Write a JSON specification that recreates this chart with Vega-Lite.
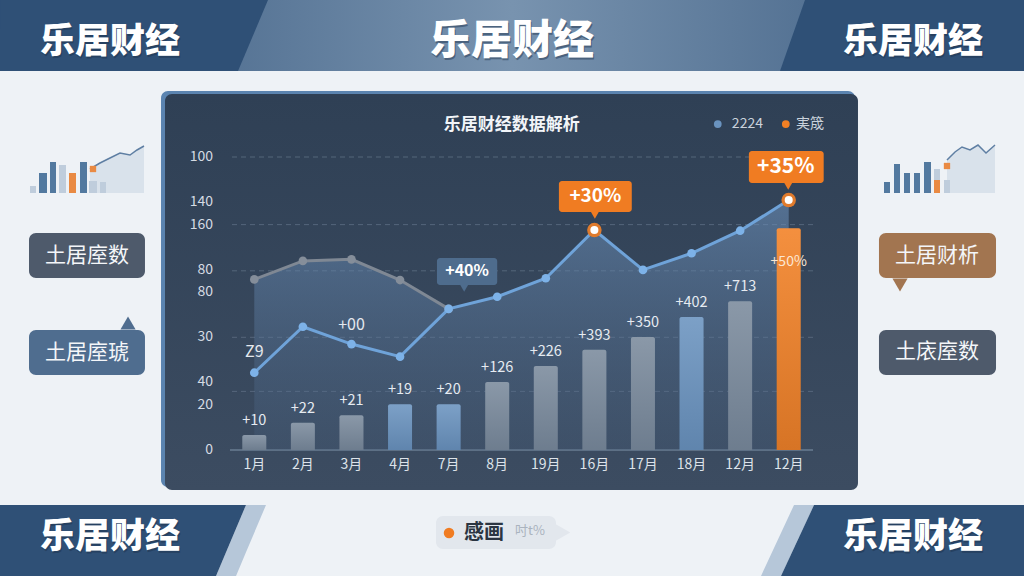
{
  "$schema": "https://vega.github.io/schema/vega-lite/v6.json",
  "width": 583,
  "height": 293,
  "autosize": {"type": "none"},
  "padding": {"left": 230, "top": 157, "right": 211, "bottom": 126},
  "background": "#eef2f6",
  "config": {"font": "Noto Sans CJK SC", "view": {"stroke": null}, "scale": {"continuousPadding": 0}},
  "datasets": {
    "m": [
      {"i": 1, "mon": "1月", "bar": 0.67, "kind": "g", "lbl": "+10", "blue": 3.43, "gray": 7.57, "env": 7.57},
      {"i": 2, "mon": "2月", "bar": 1.21, "kind": "g", "lbl": "+22", "blue": 5.47, "gray": 8.39, "env": 8.39},
      {"i": 3, "mon": "3月", "bar": 1.54, "kind": "g", "lbl": "+21", "blue": 4.70, "gray": 8.46, "env": 8.46},
      {"i": 4, "mon": "4月", "bar": 2.03, "kind": "b", "lbl": "+19", "blue": 4.14, "gray": 7.54, "env": 7.54},
      {"i": 5, "mon": "7月", "bar": 2.03, "kind": "b", "lbl": "+20", "blue": 6.26, "gray": 6.26, "env": 6.26},
      {"i": 6, "mon": "8月", "bar": 3.02, "kind": "g", "lbl": "+126", "blue": 6.80, "gray": null, "env": 6.80},
      {"i": 7, "mon": "19月", "bar": 3.73, "kind": "g", "lbl": "+226", "blue": 7.62, "gray": null, "env": 7.62},
      {"i": 8, "mon": "16月", "bar": 4.45, "kind": "g", "lbl": "+393", "blue": 9.76, "gray": null, "env": 9.76},
      {"i": 9, "mon": "17月", "bar": 5.01, "kind": "g", "lbl": "+350", "blue": 7.99, "gray": null, "env": 7.99},
      {"i": 10, "mon": "18月", "bar": 5.90, "kind": "b", "lbl": "+402", "blue": 8.73, "gray": null, "env": 8.73},
      {"i": 11, "mon": "12月", "bar": 6.60, "kind": "g", "lbl": "+713", "blue": 9.73, "gray": null, "env": 9.73},
      {"i": 12, "mon": "12月", "bar": 9.84, "kind": "o", "lbl": "", "blue": 11.09, "gray": null, "env": 11.09}
    ],
    "ticks": [
      {"v": 0, "t": "0"}, {"v": 2, "t": "20"}, {"v": 3, "t": "40"}, {"v": 5, "t": "30"}, {"v": 7, "t": "80"},
      {"v": 8, "t": "80"}, {"v": 10, "t": "160"}, {"v": 11, "t": "140"}, {"v": 13, "t": "100"}
    ]
  },
  "layer": [
    {
      "encoding": {
        "x": {"field": "a", "type": "quantitative", "scale": {"domain": [0.5, 12.5], "nice": false, "zero": false, "padding": 0}, "axis": null},
        "y": {"field": "b", "type": "quantitative", "scale": {"domain": [0, 13], "nice": false, "zero": false}, "axis": null, "stack": null}
      },
      "layer": [
        {
          "data": {"values": [{"a": -4.234, "a2": 16.843, "b": 19.966, "b2": 16.816}]},
          "mark": {"type": "rect", "color": {"gradient": "linear", "x1": 0, "y1": 0, "x2": 1, "y2": 0, "stops": [{"offset": 0, "color": "#3b5b80"}, {"offset": 0.5, "color": "#7893af"}, {"offset": 1, "color": "#3b5b80"}]}},
          "encoding": {"x2": {"field": "a2"}, "y2": {"field": "b2"}}
        },
        {
          "data": {"values": [
            {"g": "tl", "k": "navy", "a": -4.234, "b": 19.966, "b2": 16.816},
            {"g": "tl", "k": "navy", "a": 0.665, "b": 19.966, "b2": 16.816},
            {"g": "tl", "k": "navy", "a": 1.282, "b": 19.966, "b2": 19.966},
            {"g": "tr", "k": "navy", "a": 11.821, "b": 16.816, "b2": 16.816},
            {"g": "tr", "k": "navy", "a": 12.335, "b": 19.966, "b2": 16.816},
            {"g": "tr", "k": "navy", "a": 16.843, "b": 19.966, "b2": 16.816},
            {"g": "bls", "k": "pale", "a": 0.212, "b": -5.590, "b2": -5.590},
            {"g": "bls", "k": "pale", "a": 0.624, "b": -3.492, "b2": -5.590},
            {"g": "bls", "k": "pale", "a": 0.829, "b": -2.440, "b2": -4.539},
            {"g": "bls", "k": "pale", "a": 1.241, "b": -2.440, "b2": -2.440},
            {"g": "brs", "k": "pale", "a": 11.430, "b": -5.590, "b2": -5.590},
            {"g": "brs", "k": "pale", "a": 11.841, "b": -3.683, "b2": -5.590},
            {"g": "brs", "k": "pale", "a": 12.109, "b": -2.440, "b2": -4.348},
            {"g": "brs", "k": "pale", "a": 12.521, "b": -2.440, "b2": -2.440},
            {"g": "bl", "k": "navy", "a": -4.234, "b": -2.440, "b2": -5.590},
            {"g": "bl", "k": "navy", "a": 0.212, "b": -2.440, "b2": -5.590},
            {"g": "bl", "k": "navy", "a": 0.829, "b": -2.440, "b2": -2.440},
            {"g": "br", "k": "navy", "a": 11.841, "b": -5.590, "b2": -5.590},
            {"g": "br", "k": "navy", "a": 12.521, "b": -2.440, "b2": -5.590},
            {"g": "br", "k": "navy", "a": 16.843, "b": -2.440, "b2": -5.590}
          ]},
          "mark": {"type": "area", "orient": "vertical"},
          "encoding": {
            "y2": {"field": "b2"},
            "detail": {"field": "g"},
            "color": {"field": "k", "type": "nominal", "legend": null, "scale": {"domain": ["g", "b", "o", "cb", "co", "navy", "pale", "edge", "slate", "steel", "brown", "pill", "mbar", "mlight", "morange"], "range": ["#7a8a9c", "#6a93bf", "#f28024", "#4e6c8d", "#f07c22", "#2f5076", "#b6c7d9", "#5b84b0", "#4e5a6b", "#4f6d8f", "#a27550", "#e2e7ed", "#52799f", "#bfcddc", "#e98a43"]}}
          }
        },
        {
          "data": {"values": [
            {"a": -0.920, "a2": 13.365, "b": 15.928, "b2": -1.642, "k": "edge"},
            {"a": -3.637, "a2": -1.250, "b": 9.628, "b2": 7.631, "k": "slate"},
            {"a": -3.637, "a2": -1.250, "b": 5.324, "b2": 3.328, "k": "steel"},
            {"a": 13.858, "a2": 16.267, "b": 9.628, "b2": 7.631, "k": "brown"},
            {"a": 13.858, "a2": 16.267, "b": 5.324, "b2": 3.328, "k": "slate"},
            {"a": 4.740, "a2": 7.210, "b": -2.928, "b2": -4.392, "k": "pill"}
          ]},
          "mark": {"type": "rect", "cornerRadius": 7},
          "encoding": {
            "x2": {"field": "a2"},
            "y2": {"field": "b2"},
            "color": {"field": "k", "type": "nominal", "legend": null, "scale": {"domain": ["g", "b", "o", "cb", "co", "navy", "pale", "edge", "slate", "steel", "brown", "pill", "mbar", "mlight", "morange"], "range": ["#7a8a9c", "#6a93bf", "#f28024", "#4e6c8d", "#f07c22", "#2f5076", "#b6c7d9", "#5b84b0", "#4e5a6b", "#4f6d8f", "#a27550", "#e2e7ed", "#52799f", "#bfcddc", "#e98a43"]}}
          }
        },
        {
          "data": {"values": [{"a": -0.838, "a2": 13.426, "b": 15.795, "b2": -1.775}]},
          "mark": {"type": "rect", "cornerRadius": 7, "color": {"gradient": "linear", "x1": 0, "y1": 0, "x2": 0, "y2": 1, "stops": [{"offset": 0, "color": "#2f4055"}, {"offset": 1, "color": "#3c4c61"}]}},
          "encoding": {"x2": {"field": "a2"}, "y2": {"field": "b2"}}
        },
        {
          "data": {"values": [{"a": -1.599, "b": 5.635}]},
          "mark": {"type": "point", "shape": "triangle-up", "filled": true, "opacity": 1, "size": 230, "color": "#4f6d8f"}
        },
        {
          "data": {"values": [{"a": 14.291, "b": 7.321}]},
          "mark": {"type": "point", "shape": "triangle-down", "filled": true, "opacity": 1, "size": 230, "color": "#a27550"}
        },
        {
          "data": {"values": [{"a": 7.292, "b": -3.660}]},
          "mark": {"type": "point", "shape": "triangle-right", "filled": true, "opacity": 1, "size": 560, "color": "#e2e7ed"}
        },
        {
          "data": {"values": [
            {"g": "L", "a": -2.382, "b": 12.468, "b2": 11.403},
            {"g": "L", "a": -2.176, "b": 12.734, "b2": 11.403},
            {"g": "L", "a": -1.970, "b": 12.956, "b2": 11.403},
            {"g": "L", "a": -1.764, "b": 13.177, "b2": 11.403},
            {"g": "L", "a": -1.558, "b": 13.089, "b2": 11.403},
            {"g": "L", "a": -1.414, "b": 13.311, "b2": 11.403},
            {"g": "L", "a": -1.270, "b": 13.488, "b2": 11.403},
            {"g": "R", "a": 15.258, "b": 12.867, "b2": 11.403},
            {"g": "R", "a": 15.423, "b": 13.222, "b2": 11.403},
            {"g": "R", "a": 15.567, "b": 13.444, "b2": 11.403},
            {"g": "R", "a": 15.732, "b": 13.311, "b2": 11.403},
            {"g": "R", "a": 15.896, "b": 13.532, "b2": 11.403},
            {"g": "R", "a": 16.061, "b": 13.177, "b2": 11.403},
            {"g": "R", "a": 16.246, "b": 13.532, "b2": 11.403}
          ]},
          "layer": [
            {"mark": {"type": "area", "orient": "vertical", "color": "#d6e0ea", "opacity": 0.9}, "encoding": {"y2": {"field": "b2"}, "detail": {"field": "g"}}},
            {"mark": {"type": "line", "color": "#5f7fa3", "strokeWidth": 1.5}, "encoding": {"detail": {"field": "g"}}}
          ]
        },
        {
          "data": {"values": [
            {"a": -3.617, "a2": -3.493, "b": 11.713, "b2": 11.403, "k": "mlight"},
            {"a": -3.431, "a2": -3.267, "b": 12.290, "b2": 11.403, "k": "mbar"},
            {"a": -3.205, "a2": -3.081, "b": 12.778, "b2": 11.403, "k": "mbar"},
            {"a": -3.020, "a2": -2.876, "b": 12.645, "b2": 11.403, "k": "mlight"},
            {"a": -2.814, "a2": -2.670, "b": 12.290, "b2": 11.403, "k": "morange"},
            {"a": -2.587, "a2": -2.443, "b": 12.778, "b2": 11.403, "k": "mbar"},
            {"a": -2.402, "a2": -2.237, "b": 11.935, "b2": 11.403, "k": "mlight"},
            {"a": -2.176, "a2": -2.052, "b": 11.891, "b2": 11.403, "k": "mlight"},
            {"a": 13.961, "a2": 14.085, "b": 11.891, "b2": 11.403, "k": "mbar"},
            {"a": 14.167, "a2": 14.291, "b": 12.689, "b2": 11.403, "k": "mbar"},
            {"a": 14.373, "a2": 14.497, "b": 12.290, "b2": 11.403, "k": "mbar"},
            {"a": 14.579, "a2": 14.702, "b": 12.290, "b2": 11.403, "k": "mbar"},
            {"a": 14.785, "a2": 14.929, "b": 12.778, "b2": 11.403, "k": "mbar"},
            {"a": 14.990, "a2": 15.114, "b": 12.468, "b2": 11.403, "k": "mlight"},
            {"a": 14.990, "a2": 15.114, "b": 11.980, "b2": 11.403, "k": "morange"},
            {"a": 15.196, "a2": 15.320, "b": 11.980, "b2": 11.403, "k": "mlight"}
          ]},
          "mark": {"type": "rect"},
          "encoding": {
            "x2": {"field": "a2"},
            "y2": {"field": "b2"},
            "color": {"field": "k", "type": "nominal", "legend": null, "scale": {"domain": ["g", "b", "o", "cb", "co", "navy", "pale", "edge", "slate", "steel", "brown", "pill", "mbar", "mlight", "morange"], "range": ["#7a8a9c", "#6a93bf", "#f28024", "#4e6c8d", "#f07c22", "#2f5076", "#b6c7d9", "#5b84b0", "#4e5a6b", "#4f6d8f", "#a27550", "#e2e7ed", "#52799f", "#bfcddc", "#e98a43"]}}
          }
        },
        {
          "data": {"values": [{"a": -2.320, "b": 12.468}, {"a": 15.258, "b": 12.601}]},
          "mark": {"type": "square", "color": "#e98a43", "size": 40, "opacity": 1}
        },
        {
          "data": {"values": [
            {"a": -1.970, "b": 18.102, "t": "乐居财经", "z": "s"},
            {"a": 6.304, "b": 18.102, "t": "乐居财经", "z": "b"},
            {"a": 14.558, "b": 18.102, "t": "乐居财经", "z": "s"},
            {"a": -1.970, "b": -3.860, "t": "乐居财经", "z": "s"},
            {"a": 14.558, "b": -3.860, "t": "乐居财经", "z": "s"}
          ]},
          "layer": [
            {"transform": [{"filter": "datum.z == 's'"}],
             "mark": {"type": "text", "fontWeight": 900, "fontSize": 35, "color": "#1c2f48", "opacity": 0.45, "dx": 1, "dy": 2, "align": "center", "baseline": "middle"},
             "encoding": {"text": {"field": "t"}}},
            {"transform": [{"filter": "datum.z == 'b'"}],
             "mark": {"type": "text", "fontWeight": 900, "fontSize": 41, "color": "#1c2f48", "opacity": 0.45, "dx": 1, "dy": 2, "align": "center", "baseline": "middle"},
             "encoding": {"text": {"field": "t"}}},
            {"transform": [{"filter": "datum.z == 's'"}],
             "mark": {"type": "text", "fontWeight": 900, "fontSize": 35, "color": "#ffffff", "align": "center", "baseline": "middle"},
             "encoding": {"text": {"field": "t"}}},
            {"transform": [{"filter": "datum.z == 'b'"}],
             "mark": {"type": "text", "fontWeight": 900, "fontSize": 41, "color": "#ffffff", "align": "center", "baseline": "middle"},
             "encoding": {"text": {"field": "t"}}}
          ]
        },
        {
          "data": {"values": [
            {"a": -2.443, "b": 8.607, "t": "土居庢数"},
            {"a": -2.443, "b": 4.304, "t": "土居庢琥"},
            {"a": 15.052, "b": 8.607, "t": "土居财析"},
            {"a": 15.052, "b": 4.348, "t": "土庡庢数"}
          ]},
          "mark": {"type": "text", "color": "#f4f6f9", "fontSize": 21, "align": "center", "baseline": "middle"},
          "encoding": {"text": {"field": "t"}}
        },
        {
          "data": {"values": [{"a": 5.008, "b": -3.683}]},
          "mark": {"type": "circle", "color": "#f07c22", "size": 110, "opacity": 1}
        },
        {
          "data": {"values": [{"a": 5.728, "b": -3.683, "t": "感画"}]},
          "mark": {"type": "text", "color": "#2b3542", "fontSize": 20, "fontWeight": "bold", "align": "center", "baseline": "middle"},
          "encoding": {"text": {"field": "t"}}
        },
        {
          "data": {"values": [{"a": 6.675, "b": -3.594, "t": "吋t%"}]},
          "mark": {"type": "text", "color": "#aab3be", "fontSize": 13, "align": "center", "baseline": "middle"},
          "encoding": {"text": {"field": "t"}}
        }
      ]
    },
    {
      "data": {"values": [{"v": 2.6}, {"v": 5}, {"v": 7.95}, {"v": 10}, {"v": 13}]},
      "mark": {"type": "rule", "color": "#55667b", "strokeDash": [5, 4], "strokeWidth": 1},
      "encoding": {"y": {"field": "v", "type": "quantitative", "scale": {"domain": [0, 13], "nice": false, "zero": false}, "axis": null}}
    },
    {
      "data": {"values": [{"v": 0}]},
      "mark": {"type": "rule", "color": "#6a7c92", "strokeWidth": 1.5},
      "encoding": {"y": {"field": "v", "type": "quantitative", "scale": {"domain": [0, 13], "nice": false, "zero": false}, "axis": null}}
    },
    {
      "data": {"name": "ticks"},
      "mark": {"type": "text", "color": "#d5dbe3", "fontSize": 14, "align": "right", "baseline": "middle", "dx": -17},
      "encoding": {
        "x": {"datum": 0.5, "type": "quantitative", "scale": {"domain": [0.5, 12.5], "nice": false, "zero": false, "padding": 0}, "axis": null},
        "y": {"field": "v", "type": "quantitative", "scale": {"domain": [0, 13], "nice": false, "zero": false}, "axis": null},
        "text": {"field": "t"}
      }
    },
    {
      "data": {"name": "m"},
      "mark": {"type": "text", "color": "#dde3ea", "fontSize": 14, "align": "center", "baseline": "middle"},
      "encoding": {
        "x": {"field": "i", "type": "quantitative", "scale": {"domain": [0.5, 12.5], "nice": false, "zero": false, "padding": 0}, "axis": null},
        "y": {"datum": -0.67, "type": "quantitative", "scale": {"domain": [0, 13], "nice": false, "zero": false}, "axis": null},
        "text": {"field": "mon"}
      }
    },
    {
      "data": {"name": "m"},
      "mark": {"type": "area", "orient": "vertical", "color": {"gradient": "linear", "x1": 0, "y1": 0, "x2": 0, "y2": 1, "stops": [{"offset": 0, "color": "rgba(112,150,194,0.55)"}, {"offset": 1, "color": "rgba(72,96,126,0.28)"}]}},
      "encoding": {
        "x": {"field": "i", "type": "quantitative", "scale": {"domain": [0.5, 12.5], "nice": false, "zero": false, "padding": 0}, "axis": null},
        "y": {"field": "env", "type": "quantitative", "scale": {"domain": [0, 13], "nice": false, "zero": false}, "axis": null, "stack": null}
      }
    },
    {
      "data": {"name": "m"},
      "mark": {"type": "bar", "orient": "vertical", "size": 24, "cornerRadiusTopLeft": 2, "cornerRadiusTopRight": 2},
      "encoding": {
        "x": {"field": "i", "type": "quantitative", "scale": {"domain": [0.5, 12.5], "nice": false, "zero": false, "padding": 0}, "axis": null},
        "y": {"field": "bar", "type": "quantitative", "scale": {"domain": [0, 13], "nice": false, "zero": false}, "stack": null, "axis": null},
        "color": {"field": "kind", "type": "nominal", "legend": null, "scale": {"domain": ["g", "b", "o", "cb", "co", "navy", "pale", "edge", "slate", "steel", "brown", "pill", "mbar", "mlight", "morange"], "range": ["#7a8a9c", "#6a93bf", "#f28024", "#4e6c8d", "#f07c22", "#2f5076", "#b6c7d9", "#5b84b0", "#4e5a6b", "#4f6d8f", "#a27550", "#e2e7ed", "#52799f", "#bfcddc", "#e98a43"]}}
      }
    },
    {
      "data": {"name": "m"},
      "mark": {"type": "bar", "orient": "vertical", "size": 24, "cornerRadiusTopLeft": 2, "cornerRadiusTopRight": 2, "color": {"gradient": "linear", "x1": 0, "y1": 0, "x2": 0, "y2": 1, "stops": [{"offset": 0, "color": "rgba(255,255,255,0.12)"}, {"offset": 1, "color": "rgba(20,30,45,0.12)"}]}},
      "encoding": {
        "x": {"field": "i", "type": "quantitative", "scale": {"domain": [0.5, 12.5], "nice": false, "zero": false, "padding": 0}, "axis": null},
        "y": {"field": "bar", "type": "quantitative", "scale": {"domain": [0, 13], "nice": false, "zero": false}, "axis": null, "stack": null}
      }
    },
    {
      "data": {"name": "m"},
      "mark": {"type": "text", "color": "#e6ebf1", "fontSize": 14.5, "dy": -14, "baseline": "middle", "align": "center"},
      "encoding": {
        "x": {"field": "i", "type": "quantitative", "scale": {"domain": [0.5, 12.5], "nice": false, "zero": false, "padding": 0}, "axis": null},
        "y": {"field": "bar", "type": "quantitative", "scale": {"domain": [0, 13], "nice": false, "zero": false}, "axis": null},
        "text": {"field": "lbl"}
      }
    },
    {
      "data": {"name": "m"},
      "transform": [{"filter": "isValid(datum.gray)"}],
      "mark": {"type": "line", "color": "#7f8894", "strokeWidth": 3, "point": {"filled": true, "size": 75, "color": "#858e9a"}},
      "encoding": {
        "x": {"field": "i", "type": "quantitative", "scale": {"domain": [0.5, 12.5], "nice": false, "zero": false, "padding": 0}, "axis": null},
        "y": {"field": "gray", "type": "quantitative", "scale": {"domain": [0, 13], "nice": false, "zero": false}, "axis": null}
      }
    },
    {
      "data": {"name": "m"},
      "mark": {"type": "line", "color": "#6fa3d9", "strokeWidth": 3, "point": {"filled": true, "size": 75, "color": "#7db2e8"}},
      "encoding": {
        "x": {"field": "i", "type": "quantitative", "scale": {"domain": [0.5, 12.5], "nice": false, "zero": false, "padding": 0}, "axis": null},
        "y": {"field": "blue", "type": "quantitative", "scale": {"domain": [0, 13], "nice": false, "zero": false}, "axis": null}
      }
    },
    {
      "data": {"name": "m"},
      "transform": [{"filter": "datum.i == 8 || datum.i == 12"}],
      "mark": {"type": "circle", "color": "#e07b2d", "size": 210, "opacity": 1},
      "encoding": {
        "x": {"field": "i", "type": "quantitative", "scale": {"domain": [0.5, 12.5], "nice": false, "zero": false, "padding": 0}, "axis": null},
        "y": {"field": "blue", "type": "quantitative", "scale": {"domain": [0, 13], "nice": false, "zero": false}, "axis": null}
      }
    },
    {
      "data": {"name": "m"},
      "transform": [{"filter": "datum.i == 8 || datum.i == 12"}],
      "mark": {"type": "circle", "color": "#ffffff", "size": 65, "opacity": 1},
      "encoding": {
        "x": {"field": "i", "type": "quantitative", "scale": {"domain": [0.5, 12.5], "nice": false, "zero": false, "padding": 0}, "axis": null},
        "y": {"field": "blue", "type": "quantitative", "scale": {"domain": [0, 13], "nice": false, "zero": false}, "axis": null}
      }
    },
    {
      "data": {"values": [{"i": 1, "y": 4.35, "t": "Z9"}, {"i": 3, "y": 5.55, "t": "+00"}]},
      "mark": {"type": "text", "color": "#e4e8ee", "fontSize": 16, "align": "center", "baseline": "middle"},
      "encoding": {
        "x": {"field": "i", "type": "quantitative", "scale": {"domain": [0.5, 12.5], "nice": false, "zero": false, "padding": 0}, "axis": null},
        "y": {"field": "y", "type": "quantitative", "scale": {"domain": [0, 13], "nice": false, "zero": false}, "axis": null},
        "text": {"field": "t"}
      }
    },
    {
      "data": {"values": [{"i": 12, "y": 8.34, "t": "+50%"}]},
      "mark": {"type": "text", "color": "#fde6d2", "fontSize": 14, "align": "center", "baseline": "middle"},
      "encoding": {
        "x": {"field": "i", "type": "quantitative", "scale": {"domain": [0.5, 12.5], "nice": false, "zero": false, "padding": 0}, "axis": null},
        "y": {"field": "y", "type": "quantitative", "scale": {"domain": [0, 13], "nice": false, "zero": false}, "axis": null},
        "text": {"field": "t"}
      }
    },
    {
      "data": {"values": [
        {"i": 4.76, "i2": 6.0, "y": 8.52, "y2": 7.32, "k": "cb"},
        {"i": 7.27, "i2": 8.77, "y": 11.93, "y2": 10.56, "k": "co"},
        {"i": 11.18, "i2": 12.72, "y": 13.27, "y2": 11.85, "k": "co"}
      ]},
      "mark": {"type": "rect", "cornerRadius": 3},
      "encoding": {
        "x": {"field": "i", "type": "quantitative", "scale": {"domain": [0.5, 12.5], "nice": false, "zero": false, "padding": 0}, "axis": null},
        "x2": {"field": "i2"},
        "y": {"field": "y", "type": "quantitative", "scale": {"domain": [0, 13], "nice": false, "zero": false}, "axis": null},
        "y2": {"field": "y2"},
        "color": {"field": "k", "type": "nominal", "legend": null, "scale": {"domain": ["g", "b", "o", "cb", "co", "navy", "pale", "edge", "slate", "steel", "brown", "pill", "mbar", "mlight", "morange"], "range": ["#7a8a9c", "#6a93bf", "#f28024", "#4e6c8d", "#f07c22", "#2f5076", "#b6c7d9", "#5b84b0", "#4e5a6b", "#4f6d8f", "#a27550", "#e2e7ed", "#52799f", "#bfcddc", "#e98a43"]}}
      }
    },
    {
      "data": {"values": [
        {"i": 5.32, "y": 7.19, "k": "cb"},
        {"i": 8.01, "y": 10.43, "k": "co"},
        {"i": 11.99, "y": 11.72, "k": "co"}
      ]},
      "mark": {"type": "point", "shape": "triangle-down", "filled": true, "size": 80, "opacity": 1},
      "encoding": {
        "x": {"field": "i", "type": "quantitative", "scale": {"domain": [0.5, 12.5], "nice": false, "zero": false, "padding": 0}, "axis": null},
        "y": {"field": "y", "type": "quantitative", "scale": {"domain": [0, 13], "nice": false, "zero": false}, "axis": null},
        "color": {"field": "k", "type": "nominal", "legend": null, "scale": {"domain": ["g", "b", "o", "cb", "co", "navy", "pale", "edge", "slate", "steel", "brown", "pill", "mbar", "mlight", "morange"], "range": ["#7a8a9c", "#6a93bf", "#f28024", "#4e6c8d", "#f07c22", "#2f5076", "#b6c7d9", "#5b84b0", "#4e5a6b", "#4f6d8f", "#a27550", "#e2e7ed", "#52799f", "#bfcddc", "#e98a43"]}}
      }
    },
    {
      "data": {"values": [{"i": 5.38, "y": 7.92, "t": "+40%"}]},
      "mark": {"type": "text", "color": "#ffffff", "fontWeight": "bold", "fontSize": 16, "align": "center", "baseline": "middle"},
      "encoding": {
        "x": {"field": "i", "type": "quantitative", "scale": {"domain": [0.5, 12.5], "nice": false, "zero": false, "padding": 0}, "axis": null},
        "y": {"field": "y", "type": "quantitative", "scale": {"domain": [0, 13], "nice": false, "zero": false}, "axis": null},
        "text": {"field": "t"}
      }
    },
    {
      "data": {"values": [{"i": 8.02, "y": 11.25, "t": "+30%"}]},
      "mark": {"type": "text", "color": "#ffffff", "fontWeight": "bold", "fontSize": 19, "align": "center", "baseline": "middle"},
      "encoding": {
        "x": {"field": "i", "type": "quantitative", "scale": {"domain": [0.5, 12.5], "nice": false, "zero": false, "padding": 0}, "axis": null},
        "y": {"field": "y", "type": "quantitative", "scale": {"domain": [0, 13], "nice": false, "zero": false}, "axis": null},
        "text": {"field": "t"}
      }
    },
    {
      "data": {"values": [{"i": 11.94, "y": 12.56, "t": "+35%"}]},
      "mark": {"type": "text", "color": "#ffffff", "fontWeight": "bold", "fontSize": 21, "align": "center", "baseline": "middle"},
      "encoding": {
        "x": {"field": "i", "type": "quantitative", "scale": {"domain": [0.5, 12.5], "nice": false, "zero": false, "padding": 0}, "axis": null},
        "y": {"field": "y", "type": "quantitative", "scale": {"domain": [0, 13], "nice": false, "zero": false}, "axis": null},
        "text": {"field": "t"}
      }
    },
    {
      "data": {"values": [{"i": 6.3, "y": 14.42, "t": "乐居财经数据解析"}]},
      "mark": {"type": "text", "color": "#f2f5f9", "fontSize": 17, "fontWeight": "bold", "align": "center", "baseline": "middle"},
      "encoding": {
        "x": {"field": "i", "type": "quantitative", "scale": {"domain": [0.5, 12.5], "nice": false, "zero": false, "padding": 0}, "axis": null},
        "y": {"field": "y", "type": "quantitative", "scale": {"domain": [0, 13], "nice": false, "zero": false}, "axis": null},
        "text": {"field": "t"}
      }
    },
    {
      "data": {"values": [{"i": 10.54, "y": 14.46, "k": "b"}, {"i": 11.94, "y": 14.46, "k": "o"}]},
      "mark": {"type": "circle", "size": 60, "opacity": 1},
      "encoding": {
        "x": {"field": "i", "type": "quantitative", "scale": {"domain": [0.5, 12.5], "nice": false, "zero": false, "padding": 0}, "axis": null},
        "y": {"field": "y", "type": "quantitative", "scale": {"domain": [0, 13], "nice": false, "zero": false}, "axis": null},
        "color": {"field": "k", "type": "nominal", "legend": null, "scale": {"domain": ["g", "b", "o", "cb", "co", "navy", "pale", "edge", "slate", "steel", "brown", "pill", "mbar", "mlight", "morange"], "range": ["#7a8a9c", "#6a93bf", "#f28024", "#4e6c8d", "#f07c22", "#2f5076", "#b6c7d9", "#5b84b0", "#4e5a6b", "#4f6d8f", "#a27550", "#e2e7ed", "#52799f", "#bfcddc", "#e98a43"]}}
      }
    },
    {
      "data": {"values": [{"i": 10.83, "y": 14.46, "t": "2224"}, {"i": 12.15, "y": 14.46, "t": "実筬"}]},
      "mark": {"type": "text", "color": "#c9d2dc", "fontSize": 14, "align": "left", "baseline": "middle"},
      "encoding": {
        "x": {"field": "i", "type": "quantitative", "scale": {"domain": [0.5, 12.5], "nice": false, "zero": false, "padding": 0}, "axis": null},
        "y": {"field": "y", "type": "quantitative", "scale": {"domain": [0, 13], "nice": false, "zero": false}, "axis": null},
        "text": {"field": "t"}
      }
    }
  ]
}
